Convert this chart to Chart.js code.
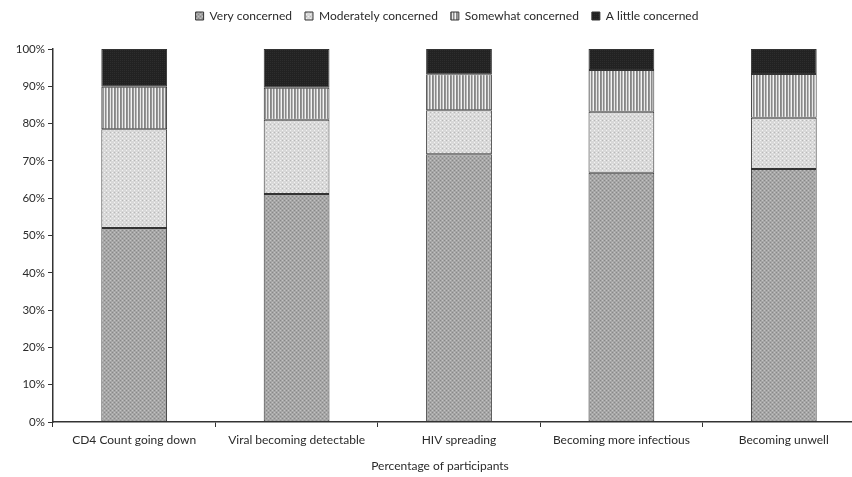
<!DOCTYPE html>
<html>
<head>
<meta charset="utf-8">
<script src="https://cdn.jsdelivr.net/npm/chart.js@4.4.0/dist/chart.umd.min.js"></script>
<style>
  html, body { margin: 0; padding: 0; background: #fff; overflow: hidden; }
  #wrap { width: 894px; height: 477px; }
</style>
</head>
<body>
<div id="wrap"><canvas id="chart" width="894" height="477"></canvas></div>
<script>
// --- Data ---
const categories = ['CD4 Count going down', 'Viral becoming detectable', 'HIV spreading', 'Becoming more infectious', 'Becoming unwell'];
const seriesNames = ['Very concerned', 'Moderately concerned', 'Somewhat concerned', 'A little concerned'];
const veryConcerned = [52.0, 61.1, 71.8, 66.8, 67.8];
const moderatelyConcerned = [26.5, 19.9, 11.8, 16.4, 13.8];
const somewhatConcerned = [11.4, 8.6, 9.6, 11.2, 11.7];
const littleConcerned = [10.1, 10.4, 6.8, 5.6, 6.7];
const yTicks = [0, 10, 20, 30, 40, 50, 60, 70, 80, 90, 100];

// --- Fill patterns (greyscale print style) ---
function makePattern(w, h, paint) {
    const c = document.createElement('canvas');
    c.width = w;
    c.height = h;
    const p = c.getContext('2d');
    paint(p);
    return document.getElementById('chart').getContext('2d').createPattern(c, 'repeat');
}

const veryFill = makePattern(4, 4, p => {
    p.fillStyle = '#a6a6a6';
    p.fillRect(0, 0, 4, 4);
    p.fillStyle = '#888888';
    p.fillRect(0, 0, 1, 1);
    p.fillRect(2, 2, 1, 1);
    p.fillStyle = '#c2c2c2';
    p.fillRect(2, 0, 1, 1);
    p.fillRect(0, 2, 1, 1);
});

const moderateFill = makePattern(4, 4, p => {
    p.fillStyle = '#d8d8d8';
    p.fillRect(0, 0, 4, 4);
    p.fillStyle = '#f2f2f2';
    p.fillRect(0, 0, 1, 1);
    p.fillRect(2, 2, 1, 1);
    p.fillStyle = '#b8b8b8';
    p.fillRect(2, 0, 1, 1);
});

const somewhatFill = makePattern(6, 2, p => {
    const cols = ['#858585', '#969696', '#e8e8e8', '#8a8a8a', '#b8b8b8', '#f4f4f4'];
    cols.forEach((col, i) => {
        p.fillStyle = col;
        p.fillRect(i, 0, 1, 2);
    });
});

const littleFill = makePattern(2, 2, p => {
    p.fillStyle = '#222222';
    p.fillRect(0, 0, 2, 2);
    p.fillStyle = '#2d2d2d';
    p.fillRect(0, 0, 1, 1);
});

const fills = [veryFill, moderateFill, somewhatFill, littleFill];
const seriesData = [veryConcerned, moderatelyConcerned, somewhatConcerned, littleConcerned];

Chart.defaults.font.family = 'Lato, "Liberation Sans", sans-serif';
Chart.defaults.color = '#2a2a2a';

// x axis title, drawn where the original had it
const xTitlePlugin = {
    id: 'xTitle',
    afterDraw(chart) {
        const c = chart.ctx;
        c.save();
        c.font = '12px Lato, "Liberation Sans", sans-serif';
        c.fillStyle = '#2a2a2a';
        c.textAlign = 'center';
        c.textBaseline = 'middle';
        c.fillText('Percentage of participants', 440, 466);
        c.restore();
    }
};

// legend block: fixed height so the plot starts at the same place, nudged right
const legendPlacePlugin = {
    id: 'legendPlace',
    afterInit(chart) {
        const lg = chart.legend;
        if (!lg) return;
        const origFit = lg.fit.bind(lg);
        lg.fit = function () {
            origFit();
            this.height = 52;
        };
    },
    afterLayout(chart) {
        if (chart.legend) chart.legend.left = 29;
    }
};

const ctx = document.getElementById('chart').getContext('2d');
new Chart(ctx, {
    type: 'bar',
    data: {
        labels: categories,
        datasets: seriesNames.map((name, i) => ({
            label: name,
            data: seriesData[i],
            backgroundColor: fills[i],
            borderColor: '#333333',
            borderWidth: 1,
            borderSkipped: false,
            categoryPercentage: 1,
            barPercentage: 0.405
        }))
    },
    options: {
        responsive: false,
        animation: false,
        layout: { padding: { top: -3, right: 29, bottom: 0, left: 0 } },
        plugins: {
            legend: {
                position: 'top',
                labels: {
                    boxWidth: 8,
                    boxHeight: 8,
                    padding: 13,
                    font: { size: 12 },
                    color: '#2a2a2a'
                }
            },
            tooltip: { enabled: false }
        },
        scales: {
            x: {
                stacked: true,
                grid: {
                    offset: true,
                    drawOnChartArea: false,
                    tickLength: 5,
                    color: '#333'
                },
                border: { color: '#333', width: 1.5 },
                ticks: { font: { size: 12 }, padding: 6, maxRotation: 0 },
                afterFit: s => { s.height = 55; }
            },
            y: {
                stacked: true,
                min: 0,
                max: 100,
                afterBuildTicks: s => { s.ticks = yTicks.map(v => ({ value: v })); },
                grid: {
                    drawOnChartArea: false,
                    tickLength: 5,
                    color: '#333'
                },
                border: { color: '#333', width: 1.5 },
                ticks: {
                    font: { size: 11.5 },
                    padding: 3,
                    callback: v => v + '%'
                },
                afterFit: s => { s.width = 53; }
            }
        }
    },
    plugins: [xTitlePlugin, legendPlacePlugin]
});
</script>
</body>
</html>
